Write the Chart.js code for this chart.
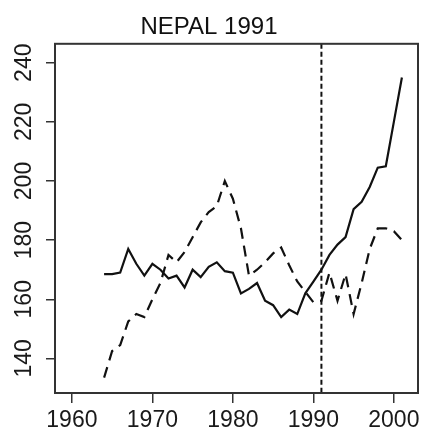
<!DOCTYPE html>
<html>
<head>
<meta charset="utf-8">
<script src="https://cdn.jsdelivr.net/npm/chart.js@4/dist/chart.umd.min.js"></script>
<style>
  html, body { margin: 0; padding: 0; background: #fff; }
  #wrap { width: 432px; height: 432px; }
</style>
</head>
<body>
<div id="wrap"><canvas id="c" width="432" height="432"></canvas></div>
<script>
// ---- data ----
const years = [1964,1965,1966,1967,1968,1969,1970,1971,1972,1973,1974,1975,1976,1977,1978,1979,1980,1981,1982,1983,1984,1985,1986,1987,1988,1989,1990,1991,1992,1993,1994,1995,1996,1997,1998,1999,2000,2001];
const actualSeries = [168.5,168.5,169,177,172,168,172,170,167,168,164,170,167.5,171,172.5,169.5,169,162,163.5,165.5,159.5,158,154,156.5,155,162,166,170,175,178.5,181,190.5,193,198,204.5,205,220,235];
const syntheticSeries = [133.5,142.5,144.5,152.5,155,154,160,165.5,175,172.5,176,181,186,189.5,191.5,200,194,184,168,170,172.5,175.5,177.5,171.5,166,162.5,159,159.5,169,159.5,168.5,155,165.5,177,184,184,183,180];
const xTickLabels = [1960,1970,1980,1990,2000];
const yTickLabels = [140,160,180,200,220,240];
const eventYear = 1991;
const titleText = 'NEPAL 1991';

const toXY = (vals) => vals.map((v, i) => ({ x: years[i], y: v }));

const boxAndEventPlugin = {
  id: 'boxAndEvent',
  afterDatasetsDraw(chart) {
    const { ctx, chartArea: a, scales } = chart;
    const px = scales.x.getPixelForValue(eventYear);
    ctx.save();
    ctx.strokeStyle = '#111';
    ctx.lineWidth = 2;
    ctx.setLineDash([5, 3]);
    ctx.beginPath();
    ctx.moveTo(px, a.top);
    ctx.lineTo(px, a.bottom);
    ctx.stroke();
    ctx.setLineDash([]);
    ctx.strokeStyle = '#333';
    ctx.lineWidth = 2;
    ctx.strokeRect(a.left, a.top, a.right - a.left, a.bottom - a.top);
    ctx.restore();
  }
};

const FONT = 'Liberation Sans, Arial, Helvetica, sans-serif';

new Chart(document.getElementById('c'), {
  type: 'line',
  data: {
    datasets: [
      {
        data: toXY(actualSeries),
        borderColor: '#111',
        borderWidth: 2.2,
        pointRadius: 0,
        tension: 0,
        fill: false
      },
      {
        data: toXY(syntheticSeries),
        borderColor: '#111',
        borderWidth: 2.2,
        borderDash: [11, 7],
        pointRadius: 0,
        tension: 0,
        fill: false
      }
    ]
  },
  options: {
    responsive: false,
    animation: false,
    devicePixelRatio: 1,
    layout: { padding: { left: 0, right: 14, top: 0, bottom: 0 } },
    plugins: {
      legend: { display: false },
      tooltip: { enabled: false },
      title: {
        display: true,
        text: titleText,
        color: '#111',
        font: { family: FONT, size: 24, weight: 'normal' },
        padding: { top: 13, bottom: 2 }
      }
    },
    scales: {
      x: {
        type: 'linear',
        min: 1957.9,
        max: 2003,
        afterBuildTicks: (s) => { s.ticks = xTickLabels.map(v => ({ value: v })); },
        afterFit: (s) => { s.height = 39; },
        border: { display: false },
        grid: { display: true, drawOnChartArea: false, drawTicks: true, tickLength: 10, color: '#333', lineWidth: 1.5 },
        ticks: {
          color: '#1a1a1a',
          font: { family: FONT, size: 23 },
          padding: 4,
          maxRotation: 0,
          minRotation: 0,
          autoSkip: false,
          callback: (v) => String(v)
        }
      },
      y: {
        type: 'linear',
        min: 128.3,
        max: 246.4,
        afterBuildTicks: (s) => { s.ticks = yTickLabels.map(v => ({ value: v })); },
        afterFit: (s) => { s.width = 55; },
        border: { display: false },
        grid: { display: true, drawOnChartArea: false, drawTicks: true, tickLength: 9, color: '#333', lineWidth: 1.5 },
        ticks: {
          color: '#1a1a1a',
          font: { family: FONT, size: 23 },
          padding: 2,
          minRotation: 90,
          maxRotation: 90,
          crossAlign: 'center',
          autoSkip: false,
          callback: (v) => String(v)
        }
      }
    }
  },
  plugins: [boxAndEventPlugin]
});
</script>
</body>
</html>
